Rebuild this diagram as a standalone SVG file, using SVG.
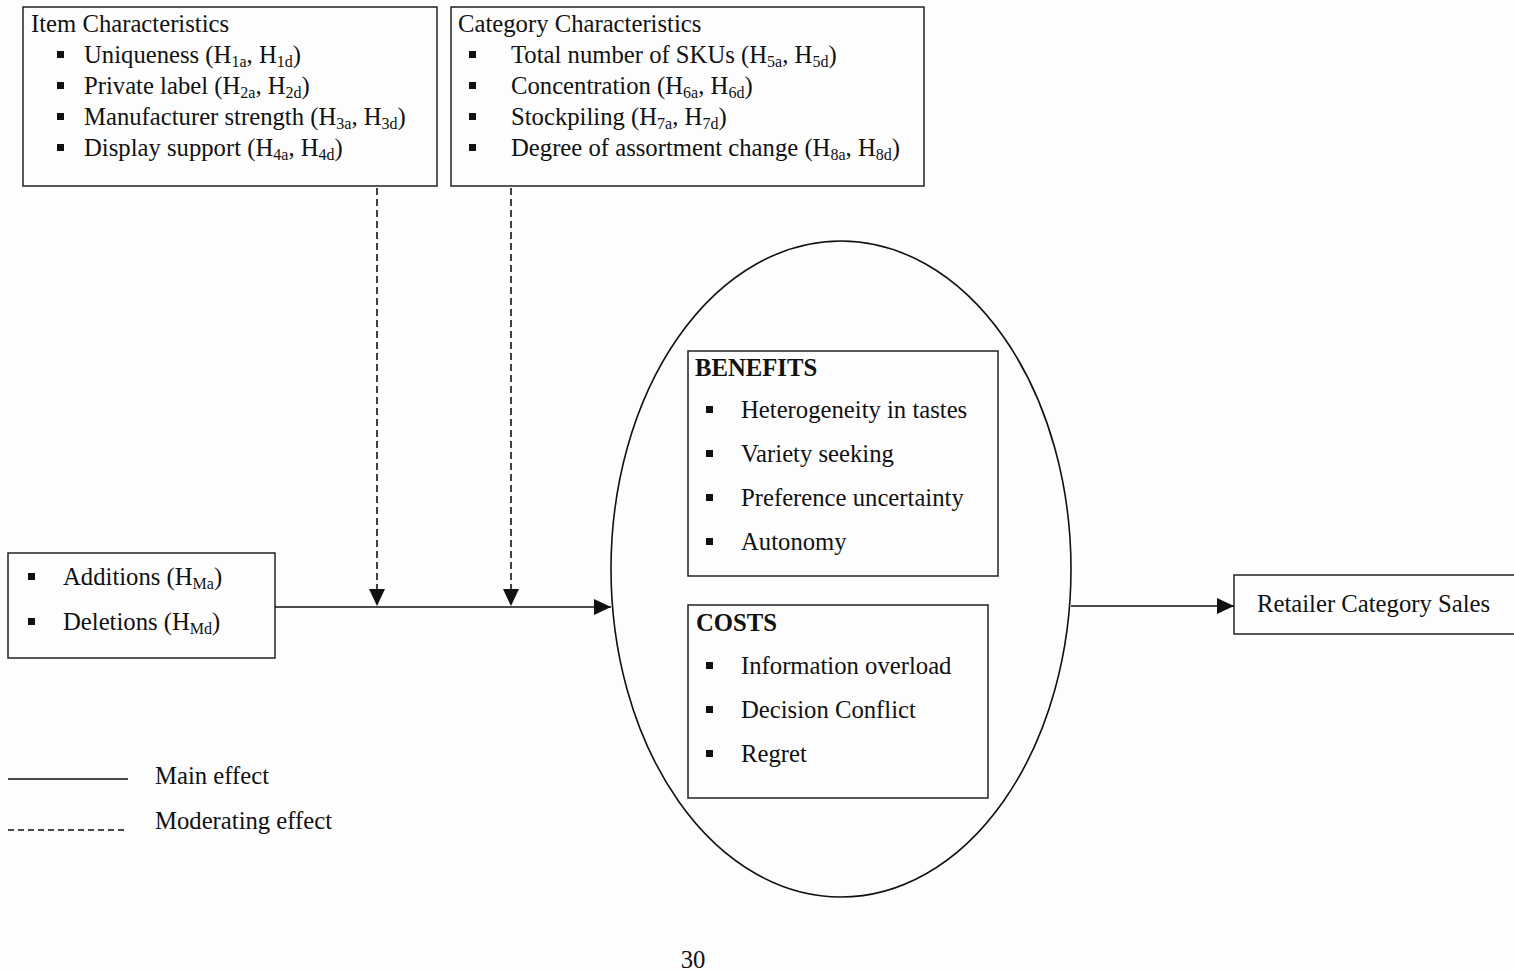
<svg xmlns="http://www.w3.org/2000/svg" width="1514" height="972" viewBox="0 0 1514 972">
<style>
text{font-family:"Liberation Serif","Times New Roman",serif;font-size:24.7px;fill:#111}
.b{font-weight:bold}
.box{fill:none;stroke:#222;stroke-width:1.5}
.ln{fill:none;stroke:#111;stroke-width:1.6}
.dash{fill:none;stroke:#111;stroke-width:1.6;stroke-dasharray:7,4}
.s{font-size:16px}
.bul{fill:#111}
</style>
<defs>
<marker id="ah" markerUnits="userSpaceOnUse" markerWidth="18" markerHeight="16" refX="17" refY="8" orient="auto">
<path d="M0,0 L17,8 L0,16 Z" fill="#111"/>
</marker>
</defs>
<rect width="1514" height="972" fill="#fdfdfd"/>

<g id="item-characteristics">
<rect class="box" x="23" y="7" width="414" height="179"/>
<text x="31" y="32">Item Characteristics</text>
<rect class="bul" x="57" y="51" width="7" height="7"/>
<rect class="bul" x="57" y="82" width="7" height="7"/>
<rect class="bul" x="57" y="113" width="7" height="7"/>
<rect class="bul" x="57" y="144" width="7" height="7"/>
<text x="84" y="63">Uniqueness (H<tspan class="s" dy="4">1a</tspan><tspan dy="-4">, H</tspan><tspan class="s" dy="4">1d</tspan><tspan dy="-4">)</tspan></text>
<text x="84" y="94">Private label (H<tspan class="s" dy="4">2a</tspan><tspan dy="-4">, H</tspan><tspan class="s" dy="4">2d</tspan><tspan dy="-4">)</tspan></text>
<text x="84" y="125">Manufacturer strength (H<tspan class="s" dy="4">3a</tspan><tspan dy="-4">, H</tspan><tspan class="s" dy="4">3d</tspan><tspan dy="-4">)</tspan></text>
<text x="84" y="156">Display support (H<tspan class="s" dy="4">4a</tspan><tspan dy="-4">, H</tspan><tspan class="s" dy="4">4d</tspan><tspan dy="-4">)</tspan></text>
</g>

<g id="category-characteristics">
<rect class="box" x="451" y="7" width="473" height="179"/>
<text x="458" y="32">Category Characteristics</text>
<rect class="bul" x="469" y="51" width="7" height="7"/>
<rect class="bul" x="469" y="82" width="7" height="7"/>
<rect class="bul" x="469" y="113" width="7" height="7"/>
<rect class="bul" x="469" y="144" width="7" height="7"/>
<text x="511" y="63">Total number of SKUs (H<tspan class="s" dy="4">5a</tspan><tspan dy="-4">, H</tspan><tspan class="s" dy="4">5d</tspan><tspan dy="-4">)</tspan></text>
<text x="511" y="94">Concentration (H<tspan class="s" dy="4">6a</tspan><tspan dy="-4">, H</tspan><tspan class="s" dy="4">6d</tspan><tspan dy="-4">)</tspan></text>
<text x="511" y="125">Stockpiling (H<tspan class="s" dy="4">7a</tspan><tspan dy="-4">, H</tspan><tspan class="s" dy="4">7d</tspan><tspan dy="-4">)</tspan></text>
<text x="511" y="156">Degree of assortment change (H<tspan class="s" dy="4">8a</tspan><tspan dy="-4">, H</tspan><tspan class="s" dy="4">8d</tspan><tspan dy="-4">)</tspan></text>
</g>

<g id="additions-deletions">
<rect class="box" x="8" y="553" width="267" height="105"/>
<rect class="bul" x="28" y="573" width="7" height="7"/>
<rect class="bul" x="28" y="618" width="7" height="7"/>
<text x="63" y="585">Additions (H<tspan class="s" dy="4">Ma</tspan><tspan dy="-4">)</tspan></text>
<text x="63" y="630">Deletions (H<tspan class="s" dy="4">Md</tspan><tspan dy="-4">)</tspan></text>
</g>

<g id="choice-ellipse">
<ellipse class="ln" cx="841" cy="569" rx="230" ry="328" stroke-width="1.2"/>
</g>

<g id="benefits">
<rect class="box" x="688" y="351" width="310" height="225"/>
<text class="b" x="695" y="376">BENEFITS</text>
<rect class="bul" x="706" y="406" width="7" height="7"/>
<rect class="bul" x="706" y="450" width="7" height="7"/>
<rect class="bul" x="706" y="494" width="7" height="7"/>
<rect class="bul" x="706" y="538" width="7" height="7"/>
<text x="741" y="418">Heterogeneity in tastes</text>
<text x="741" y="462">Variety seeking</text>
<text x="741" y="506">Preference uncertainty</text>
<text x="741" y="550">Autonomy</text>
</g>

<g id="costs">
<rect class="box" x="688" y="605" width="300" height="193"/>
<text class="b" x="696" y="631">COSTS</text>
<rect class="bul" x="706" y="662" width="7" height="7"/>
<rect class="bul" x="706" y="706" width="7" height="7"/>
<rect class="bul" x="706" y="750" width="7" height="7"/>
<text x="741" y="674">Information overload</text>
<text x="741" y="718">Decision Conflict</text>
<text x="741" y="762">Regret</text>
</g>

<g id="retailer-sales">
<rect class="box" x="1234" y="575" width="290" height="59"/>
<text x="1257" y="612">Retailer Category Sales</text>
</g>

<g id="connectors">
<line class="ln" x1="275" y1="607" x2="611" y2="607" marker-end="url(#ah)"/>
<line class="ln" x1="1071" y1="606" x2="1234" y2="606" marker-end="url(#ah)"/>
<line class="dash" x1="377" y1="188" x2="377" y2="606" marker-end="url(#ah)"/>
<line class="dash" x1="511" y1="188" x2="511" y2="606" marker-end="url(#ah)"/>
</g>

<g id="legend">
<line class="ln" x1="8" y1="779" x2="128" y2="779"/>
<line class="ln" x1="8" y1="830" x2="128" y2="830" stroke-dasharray="6,4"/>
<text x="155" y="784">Main effect</text>
<text x="155" y="829">Moderating effect</text>
</g>

<text x="693" y="968" text-anchor="middle">30</text>
</svg>
